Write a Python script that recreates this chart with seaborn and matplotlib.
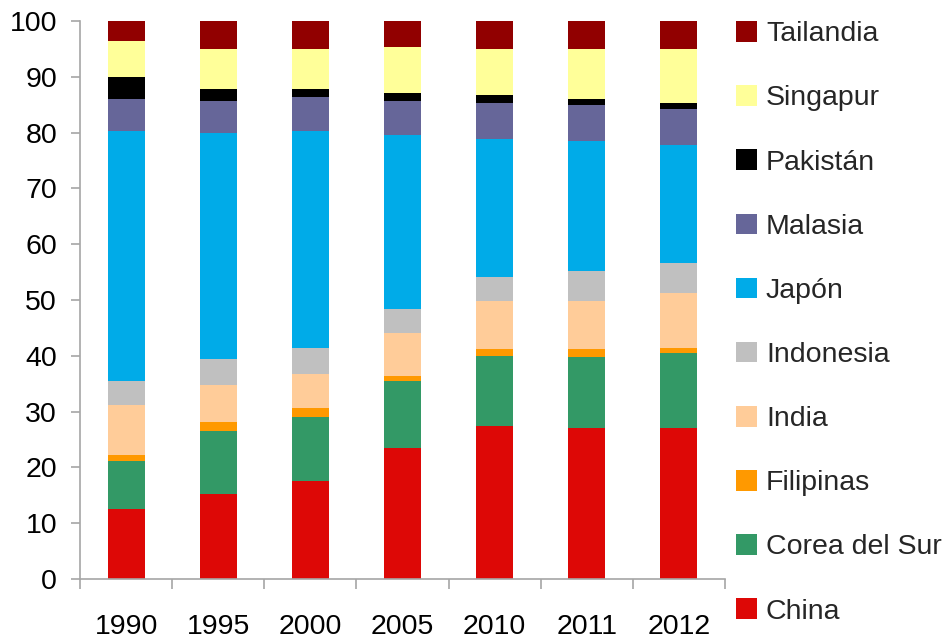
import numpy as np
import pandas as pd
import seaborn as sns
import matplotlib.pyplot as plt
from matplotlib.patches import Patch
from matplotlib.ticker import FixedLocator

years = ['1990', '1995', '2000', '2005', '2010', '2011', '2012']

# bottom to top order of the stack
countries = ['China', 'Corea del Sur', 'Filipinas', 'India', 'Indonesia',
             'Japón', 'Malasia', 'Pakistán', 'Singapur', 'Tailandia']

china = [12.6, 15.2, 17.6, 23.4, 27.5, 27.0, 27.0]
corea = [8.6, 11.4, 11.5, 12.0, 12.4, 12.7, 13.5]
filipinas = [1.1, 1.6, 1.5, 0.9, 1.3, 1.5, 0.9]
india = [8.8, 6.5, 6.2, 7.7, 8.6, 8.7, 9.8]
indonesia = [4.3, 4.7, 4.6, 4.3, 4.3, 5.3, 5.4]
japon = [44.9, 40.6, 38.9, 31.3, 24.7, 23.3, 21.2]
malasia = [5.7, 5.6, 6.1, 6.0, 6.5, 6.4, 6.4]
pakistan = [4.0, 2.2, 1.4, 1.5, 1.4, 1.1, 1.1]
singapur = [6.4, 7.2, 7.2, 8.3, 8.3, 9.0, 9.7]
tailandia = [3.6, 5.0, 5.0, 4.6, 5.0, 5.0, 5.0]

colors = ['#DD0806', '#339966', '#FF9900', '#FFCC99', '#C0C0C0',
          '#00ABE8', '#666699', '#000000', '#FFFF99', '#910000']

series = [china, corea, filipinas, india, indonesia,
          japon, malasia, pakistan, singapur, tailandia]

df = pd.DataFrame(np.array(series).T, columns=countries)
df['year'] = years
cum = df[countries].cumsum(axis=1)
cum['year'] = years

sns.set_theme(style='white')
plt.rcParams['font.family'] = ['Liberation Sans', 'DejaVu Sans']

fig = plt.figure(figsize=(9.47, 6.39), dpi=100)
ax = fig.add_axes([0.0845, 0.094, 0.681, 0.873])

# draw cumulative totals from top layer down so each lower layer overlays
for country, color in reversed(list(zip(countries, colors))):
    sns.barplot(data=cum, x='year', y=country, color=color, width=0.4,
                saturation=1, ax=ax, linewidth=0, order=years)

ax.set_ylim(0, 100)
ax.set_xlim(-0.5, 6.5)
ax.set_yticks(range(0, 101, 10))
ax.set_xlabel('')
ax.set_ylabel('')

spine_col = '#A6A6A6'
for s in ['top', 'right']:
    ax.spines[s].set_visible(False)
for s in ['left', 'bottom']:
    ax.spines[s].set_color(spine_col)
    ax.spines[s].set_linewidth(1.2)

ax.tick_params(axis='y', which='major', length=6.5, width=1.2, color=spine_col,
               labelsize=20.5, pad=10, left=True, labelcolor='black')
ax.tick_params(axis='x', which='major', length=0, labelsize=20.5, pad=25,
               labelcolor='black')
ax.xaxis.set_minor_locator(FixedLocator(np.arange(-0.5, 7.0, 1.0)))
ax.tick_params(axis='x', which='minor', length=7.5, width=1.2, color=spine_col,
               bottom=True)

handles = [Patch(facecolor=c, edgecolor='none', label=n)
           for n, c in zip(countries, colors)][::-1]
fig.legend(handles=handles, loc='upper left', bbox_to_anchor=(0.777, 0.967),
           frameon=False, fontsize=20.5, handlelength=0.74, handleheight=0.74,
           handletextpad=0.32, labelspacing=1.33, borderaxespad=0,
           borderpad=0)

fig.savefig('out.png', dpi=100)
